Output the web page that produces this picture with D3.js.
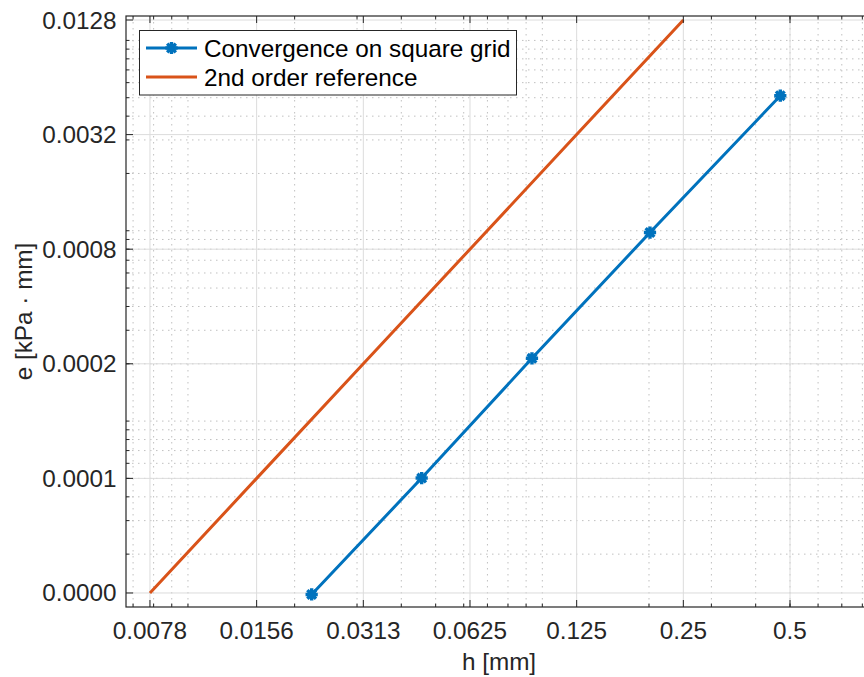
<!DOCTYPE html>
<html>
<head>
<meta charset="utf-8">
<script src="https://cdn.jsdelivr.net/npm/d3@7"></script>
<style>
  body { margin: 0; background: #fff; }
  svg { display: block; }
  text { font-family: "Liberation Sans", Arial, Helvetica, sans-serif; }
</style>
</head>
<body>
<svg id="chart" width="864" height="677"></svg>
<script>
// Grid spacing h [mm] and error e [kPa·mm] for the square-grid study
const hGrid = [0.02234, 0.04566, 0.0935, 0.2013, 0.4694];
const errGrid = [1.228e-5, 5.02e-5, 2.137e-4, 9.79e-4, 5.12e-3];

// Second-order reference line
const hRef = [0.0078125, 0.015625, 0.03125, 0.0625, 0.125, 0.25];
const errRef = [0.0000125, 0.00005, 0.0002, 0.0008, 0.0032, 0.0128];

// Axis ticks and labels
const xTicks = [0.0078125, 0.015625, 0.03125, 0.0625, 0.125, 0.25, 0.5];
const xTickLabels = ["0.0078", "0.0156", "0.0313", "0.0625", "0.125", "0.25", "0.5"];
const yTicks = [0.0000125, 0.00005, 0.0002, 0.0008, 0.0032, 0.0128];
const yTickLabels = ["0.0000", "0.0001", "0.0002", "0.0008", "0.0032", "0.0128"];

const seriesNames = ["Convergence on square grid", "2nd order reference"];
const seriesColors = ["#0072BD", "#D95319"];
const xLabel = "h [mm]";
const yLabel = "e [kPa \u00B7 mm]";

const plot = { left: 126, right: 872, top: 16, bottom: 607 };
const axisColor = "#262626";
const fontSize = 24.3;

const svg = d3.select("#chart");

const x = d3.scaleLog().domain([0.006686, 0.8518]).range([plot.left, plot.right]);
const y = d3.scaleLog().domain([0.00001055, 0.013435]).range([plot.bottom, plot.top]);

// Minor (decade) ticks from the log scales themselves
const xMinor = x.ticks();
const yMinor = y.ticks();

// ---- grid ----
const grid = svg.append("g");
grid.selectAll(".xminor").data(xMinor).join("line")
  .attr("x1", d => x(d)).attr("x2", d => x(d))
  .attr("y1", plot.top).attr("y2", plot.bottom)
  .attr("stroke", "#c0c0c0").attr("stroke-width", 1)
  .attr("stroke-dasharray", "1.5,4.5");
grid.selectAll(".yminor").data(yMinor).join("line")
  .attr("y1", d => y(d)).attr("y2", d => y(d))
  .attr("x1", plot.left).attr("x2", plot.right)
  .attr("stroke", "#c0c0c0").attr("stroke-width", 1)
  .attr("stroke-dasharray", "1.5,4.5");
grid.selectAll(".xmajor").data(xTicks).join("line")
  .attr("x1", d => x(d)).attr("x2", d => x(d))
  .attr("y1", plot.top).attr("y2", plot.bottom)
  .attr("stroke", "#dcdcdc").attr("stroke-width", 1);
grid.selectAll(".ymajor").data(yTicks).join("line")
  .attr("y1", d => y(d)).attr("y2", d => y(d))
  .attr("x1", plot.left).attr("x2", plot.right)
  .attr("stroke", "#dcdcdc").attr("stroke-width", 1);

// ---- series ----
svg.append("defs").append("clipPath").attr("id", "plotClip")
  .append("rect")
  .attr("x", plot.left).attr("y", plot.top)
  .attr("width", plot.right - plot.left).attr("height", plot.bottom - plot.top);

const line = d3.line().x(d => x(d[0])).y(d => y(d[1]));
const series = svg.append("g").attr("clip-path", "url(#plotClip)");

const refData = hRef.map((h, i) => [h, errRef[i]]);
const gridData = hGrid.map((h, i) => [h, errGrid[i]]);

series.append("path").datum(refData)
  .attr("d", line).attr("fill", "none")
  .attr("stroke", seriesColors[1]).attr("stroke-width", 3);

series.append("path").datum(gridData)
  .attr("d", line).attr("fill", "none")
  .attr("stroke", seriesColors[0]).attr("stroke-width", 3);

// eight-armed asterisk marker
const asterisk8 = {
  draw(ctx, size) {
    const r = Math.sqrt(size) / 2;
    const s = r * Math.SQRT1_2;
    ctx.moveTo(-r, 0); ctx.lineTo(r, 0);
    ctx.moveTo(0, -r); ctx.lineTo(0, r);
    ctx.moveTo(-s, -s); ctx.lineTo(s, s);
    ctx.moveTo(-s, s); ctx.lineTo(s, -s);
  }
};
const marker = d3.symbol().type(asterisk8).size(150);

series.selectAll(".mk").data(gridData).join("path")
  .attr("transform", d => `translate(${x(d[0])},${y(d[1])})`)
  .attr("d", marker)
  .attr("fill", "none")
  .attr("stroke", seriesColors[0]).attr("stroke-width", 3.4);

// ---- axes box ----
const axes = svg.append("g");
function drawTicks(sel, vals, len, orient) {
  sel.selectAll("line").data(vals).join("line")
    .attr("stroke", axisColor).attr("stroke-width", 1)
    .each(function (d) {
      const l = d3.select(this);
      if (orient === "bottom") l.attr("x1", x(d)).attr("x2", x(d)).attr("y1", plot.bottom).attr("y2", plot.bottom - len);
      if (orient === "top") l.attr("x1", x(d)).attr("x2", x(d)).attr("y1", plot.top).attr("y2", plot.top + len);
      if (orient === "left") l.attr("y1", y(d)).attr("y2", y(d)).attr("x1", plot.left).attr("x2", plot.left + len);
      if (orient === "right") l.attr("y1", y(d)).attr("y2", y(d)).attr("x1", plot.right).attr("x2", plot.right - len);
    });
}
const majLen = 7, minLen = 3.5;
drawTicks(axes.append("g"), xMinor, minLen, "bottom");
drawTicks(axes.append("g"), xTicks, majLen, "bottom");
drawTicks(axes.append("g"), xMinor, minLen, "top");
drawTicks(axes.append("g"), xTicks, majLen, "top");
drawTicks(axes.append("g"), yMinor, minLen, "left");
drawTicks(axes.append("g"), yTicks, majLen, "left");
drawTicks(axes.append("g"), yMinor, minLen, "right");
drawTicks(axes.append("g"), yTicks, majLen, "right");

axes.append("rect")
  .attr("x", plot.left).attr("y", plot.top)
  .attr("width", plot.right - plot.left).attr("height", plot.bottom - plot.top)
  .attr("fill", "none").attr("stroke", axisColor).attr("stroke-width", 1.2);

// tick labels
svg.append("g").selectAll("text").data(xTicks).join("text")
  .attr("x", d => x(d)).attr("y", 638.5)
  .attr("text-anchor", "middle")
  .attr("font-size", fontSize).attr("fill", axisColor)
  .text((d, i) => xTickLabels[i]);

svg.append("g").selectAll("text").data(yTicks).join("text")
  .attr("x", plot.left - 9.5).attr("y", d => y(d))
  .attr("dy", "0.35em")
  .attr("text-anchor", "end")
  .attr("font-size", fontSize).attr("fill", axisColor)
  .text((d, i) => yTickLabels[i]);

// axis titles
svg.append("text")
  .attr("x", (plot.left + plot.right) / 2).attr("y", 669.5)
  .attr("text-anchor", "middle")
  .attr("font-size", fontSize).attr("fill", axisColor)
  .text(xLabel);

svg.append("text")
  .attr("transform", `translate(32,${(plot.top + plot.bottom) / 2}) rotate(-90)`)
  .attr("text-anchor", "middle")
  .attr("font-size", fontSize).attr("fill", axisColor)
  .text(yLabel);

// ---- legend ----
const legend = svg.append("g");
legend.append("rect")
  .attr("x", 139.5).attr("y", 30.5).attr("width", 377).attr("height", 64.5)
  .attr("fill", "#fff").attr("stroke", axisColor).attr("stroke-width", 1);

const rows = seriesNames.map((name, i) => ({ name, color: seriesColors[i], i }));
const rowY = [48, 77];
const li = legend.selectAll(".row").data(rows).join("g")
  .attr("transform", d => `translate(0,${rowY[d.i]})`);
li.append("line")
  .attr("x1", 146).attr("x2", 197).attr("y1", 0).attr("y2", 0)
  .attr("stroke", d => d.color).attr("stroke-width", 3);
li.filter(d => d.i === 0).append("path")
  .attr("transform", "translate(171.5,0)")
  .attr("d", marker).attr("fill", "none")
  .attr("stroke", d => d.color).attr("stroke-width", 3.4);
li.append("text")
  .attr("x", 204).attr("y", 0).attr("dy", "0.35em")
  .attr("font-size", fontSize).attr("fill", "#000")
  .text(d => d.name);
</script>
</body>
</html>
